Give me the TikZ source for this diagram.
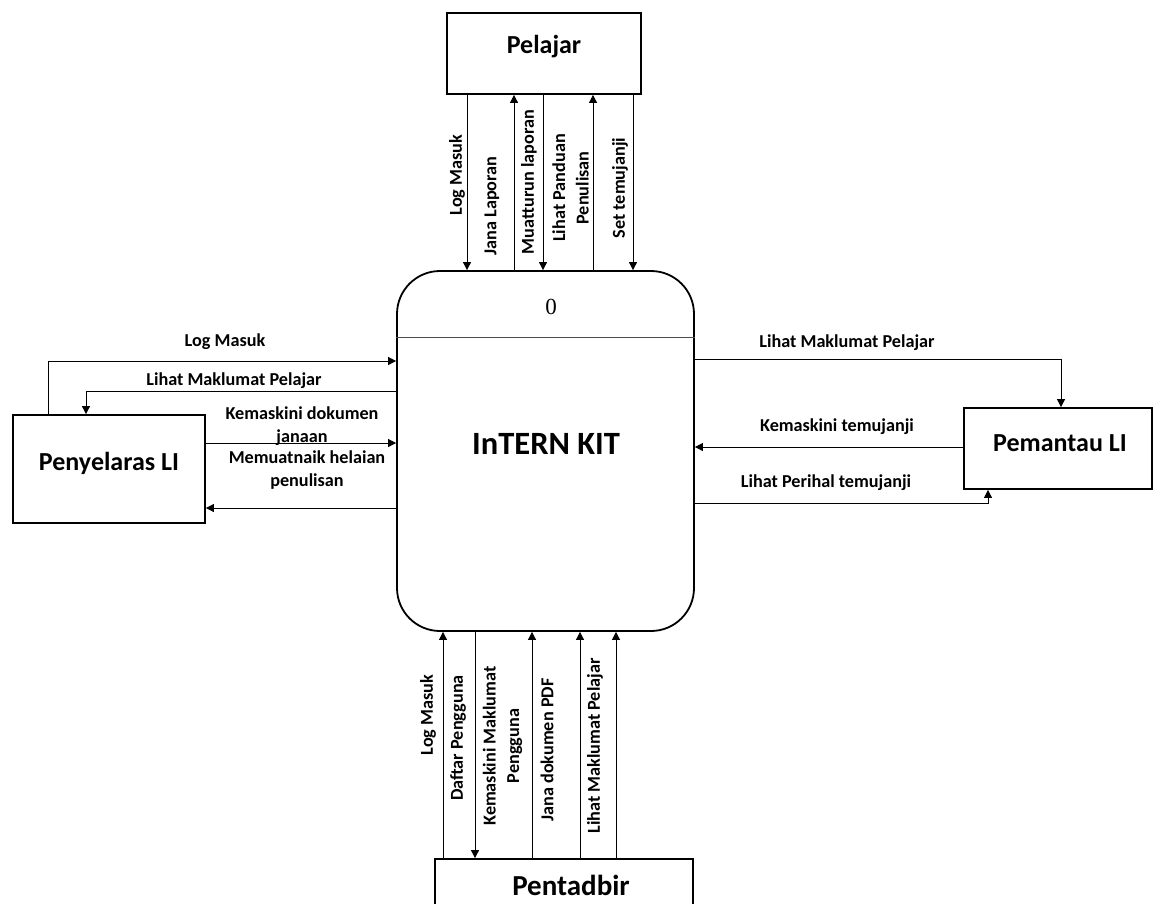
\documentclass[tikz,border=0pt]{standalone}
\usepackage{fontspec}
\setmainfont{Carlito}
\newfontfamily\numfont{Liberation Serif}
\usetikzlibrary{arrows.meta,calc}
\begin{document}
\begin{tikzpicture}[x=1pt,y=-1pt,
  ent/.style={draw,line width=1.8pt,rectangle,inner sep=0pt},
  big/.style={font=\bfseries\fontsize{26}{30}\selectfont},
  arr/.style={line width=0.8pt,-{Triangle[length=8pt,width=8pt]}},
  lbl/.style={font=\bfseries\fontsize{18.2}{23.5}\selectfont,inner sep=0pt,align=center},
  vlbl/.style={lbl,rotate=90}]
\useasboundingbox (0,0) rectangle (1154,903);
\clip (0,0) rectangle (1154,903);
% entities
\node[ent,minimum width=194pt,minimum height=81pt,
  label={[big,yshift=7pt]center:Pelajar}] (pel) at (544,53.5) {};
\node[ent,minimum width=192pt,minimum height=108pt,
  label={[big,yshift=6pt]center:Penyelaras LI}] (pen) at (109,469) {};
\node[ent,minimum width=188pt,minimum height=81pt,
  label={[big,yshift=5pt,xshift=2pt]center:Pemantau LI}] (pem) at (1058,448.5) {};
\node[ent,minimum width=258pt,minimum height=82pt,
  label={[big,font=\bfseries\fontsize{29}{32}\selectfont,yshift=15pt,xshift=7pt]center:Pentadbir}] (pent) at (564,900) {};
% process
\node[draw,line width=1.8pt,rounded corners=43pt,minimum width=297pt,minimum height=360pt] (proc) at (545.5,451) {};
\coordinate (div) at (0,337);
\draw[line width=1pt,black!70] (proc.west |- div) -- (proc.east |- div);
\node[font=\numfont\fontsize{23}{26}\selectfont] (pid) at (551,307) {0};
\node[font=\bfseries\fontsize{32.5}{36}\selectfont] (pname) at (546,444) {InTERN KIT};
% top columns
\coordinate (c1) at (467,0);
\coordinate (c2) at (514,0);
\coordinate (c3) at (543,0);
\coordinate (c4) at (593,0);
\coordinate (c5) at (633,0);
\draw[arr] (pel.south -| c1) -- (proc.north -| c1);
\draw[arr] (proc.north -| c2) -- (pel.south -| c2);
\draw[arr] (pel.south -| c3) -- (proc.north -| c3);
\draw[arr] (proc.north -| c4) -- (pel.south -| c4);
\draw[arr] (pel.south -| c5) -- (proc.north -| c5);
\node[vlbl] (t1) at (457,175) {Log Masuk};
\node[vlbl] (t2) at (492,206) {Jana Laporan};
\node[vlbl] (t3) at (529,182) {Muatturun laporan};
\node[vlbl] (t4) at (570.5,188) {Lihat Panduan\\Penulisan};
\node[vlbl] (t5) at (620,188) {Set temujanji};
% left
\coordinate (l1) at (48,361);
\coordinate (l2) at (86,391);
\coordinate (l3) at (0,443);
\coordinate (l4) at (0,508);
\draw[arr] (pen.north -| l1) |- (proc.west |- l1);
\draw[arr] (proc.west |- l2) -| (pen.north -| l2);
\draw[arr] (pen.east |- l3) -- (proc.west |- l3);
\draw[arr] (proc.west |- l4) -- (pen.east |- l4);
\node[lbl] (ll1) at (225,342) {Log Masuk};
\node[lbl] (ll2) at (234,381) {Lihat Maklumat Pelajar};
\node[lbl] (ll3) at (302,426) {Kemaskini dokumen\\janaan};
\node[lbl] (ll4) at (307,470) {Memuatnaik helaian\\penulisan};
% right
\coordinate (r1) at (1061,359);
\coordinate (r2) at (0,447);
\coordinate (r3) at (988,503);
\draw[arr] (proc.east |- r1) -| (pem.north -| r1);
\draw[arr] (pem.west |- r2) -- (proc.east |- r2);
\draw[arr] (proc.east |- r3) -| (pem.south -| r3);
\node[lbl] (rl1) at (847,343) {Lihat Maklumat Pelajar};
\node[lbl] (rl2) at (837,427) {Kemaskini temujanji};
\node[lbl] (rl3) at (826,483) {Lihat Perihal temujanji};
% bottom
\coordinate (b1) at (443,0);
\coordinate (b2) at (475,0);
\coordinate (b3) at (532,0);
\coordinate (b4) at (580,0);
\coordinate (b5) at (616,0);
\draw[arr] (pent.north -| b1) -- (proc.south -| b1);
\draw[arr] (proc.south -| b2) -- (pent.north -| b2);
\draw[arr] (pent.north -| b3) -- (proc.south -| b3);
\draw[arr] (pent.north -| b4) -- (proc.south -| b4);
\draw[arr] (pent.north -| b5) -- (proc.south -| b5);
\node[vlbl] (bl1) at (428,715) {Log Masuk};
\node[vlbl] (bl2) at (458,738) {Daftar Pengguna};
\node[vlbl] (bl3) at (502.5,746) {Kemaskini Maklumat\\Pengguna};
\node[vlbl] (bl4) at (547,750) {Jana dokumen PDF};
\node[vlbl] (bl5) at (595,746) {Lihat Maklumat Pelajar};
\end{tikzpicture}
\end{document}
